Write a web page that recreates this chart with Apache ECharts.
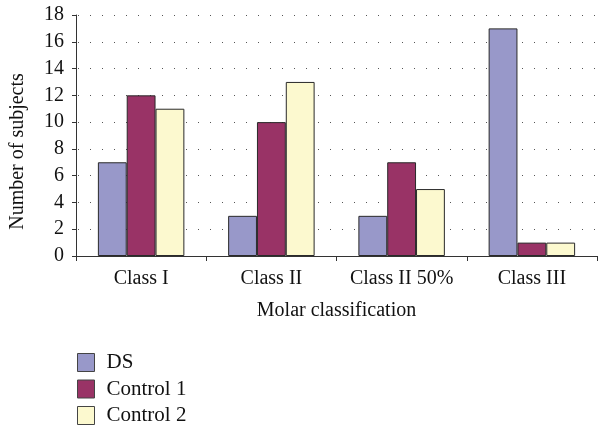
<!DOCTYPE html>
<html>
<head>
<meta charset="utf-8">
<script src="https://cdn.jsdelivr.net/npm/echarts@6/dist/echarts.min.js"></script>
<style>
  html, body { margin: 0; padding: 0; background: #fff; }
  #chart { width: 598px; height: 427px; }
</style>
</head>
<body>
<div id="chart"></div>
<script>
// data
const categories = ['Class I', 'Class II', 'Class II 50%', 'Class III']
const dsValues = [7, 3, 3, 17]
const control1Values = [12, 10, 7, 1]
const control2Values = [11, 13, 5, 1]
const yTicks = { min: 0, max: 18, interval: 2 }

const font = '"Liberation Serif", "DejaVu Serif", serif'
const border = { borderColor: '#2a2a2a', borderWidth: 1 }

const chart = echarts.init(document.getElementById('chart'))
const option = {
  animation: false,
  textStyle: { fontFamily: font, color: '#111' },
  grid: { left: 76, right: 1, top: 15, bottom: 171, containLabel: false, outerBoundsMode: 'none' },
  legend: {
    orient: 'vertical',
    left: 77,
    top: 352,
    padding: 0,
    icon: 'rect',
    itemWidth: 17,
    itemHeight: 18,
    itemGap: 5.5,
    itemStyle: { borderColor: '#444', borderWidth: 1 },
    textStyle: { fontFamily: font, fontSize: 21, color: '#111', padding: [0, 0, 0, 7] },
    data: ['DS', 'Control 1', 'Control 2'],
  },
  xAxis: {
    type: 'category',
    data: categories,
    name: 'Molar classification',
    nameLocation: 'middle',
    nameGap: 45,
    nameTextStyle: { fontFamily: font, fontSize: 20, color: '#111' },
    axisLine: { lineStyle: { color: '#333', width: 1 } },
    axisTick: { show: true, length: 5, alignWithLabel: false, lineStyle: { color: '#333' } },
    axisLabel: { interval: 0, fontFamily: font, fontSize: 20, color: '#111', margin: 13 },
  },
  yAxis: {
    type: 'value',
    min: yTicks.min,
    max: yTicks.max,
    interval: yTicks.interval,
    name: 'Number of subjects',
    nameLocation: 'middle',
    nameGap: 48,
    nameTextStyle: { fontFamily: font, fontSize: 20, color: '#111', padding: [0, 32, 0, 0] },
    axisLine: { show: true, lineStyle: { color: '#333', width: 1 } },
    axisTick: { show: true, length: 4, lineStyle: { color: '#333' } },
    axisLabel: { fontFamily: font, fontSize: 20, color: '#111', margin: 12 },
    splitLine: { show: true, lineStyle: { color: '#555', type: [1, 11], dashOffset: -14, width: 1 } },
  },
  series: [
    {
      name: 'DS',
      type: 'bar',
      data: dsValues,
      barGap: '0%',
      barCategoryGap: '33.6%',
      itemStyle: { color: '#9898c9', ...border },
    },
    {
      name: 'Control 1',
      type: 'bar',
      data: control1Values,
      itemStyle: { color: '#993366', ...border },
    },
    {
      name: 'Control 2',
      type: 'bar',
      data: control2Values,
      itemStyle: { color: '#fcf9cf', ...border },
    },
  ],
}
chart.setOption(option, true)
</script>
</body>
</html>
